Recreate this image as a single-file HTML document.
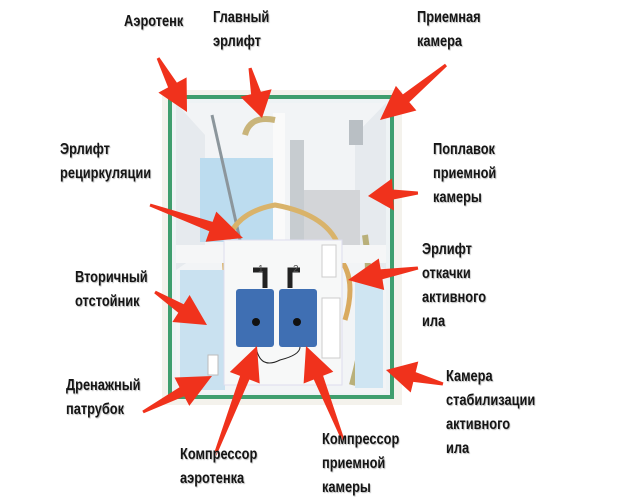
<!DOCTYPE html>
<html><head><meta charset="utf-8"><style>
html,body{margin:0;padding:0;background:#fff;}
#w{position:relative;width:644px;height:500px;overflow:hidden;background:#fff;font-family:"Liberation Sans","Noto Sans CJK SC",sans-serif;}
.t{position:absolute;font-size:16px;font-weight:bold;line-height:24px;color:#151515;transform:scaleX(0.8);transform-origin:left top;text-shadow:1px 1px 1px #bbb;white-space:nowrap}
svg{position:absolute;left:0;top:0}
</style></head><body><div id="w">
<svg width="644" height="500" id="s">
<rect x="162" y="90" width="240" height="315" fill="#f4f2ec"/>
<rect x="170" y="97" width="222" height="300" fill="#eef3f5" stroke="#3f9e6e" stroke-width="4"/>
<rect x="176" y="103" width="210" height="290" fill="#f2f4f6"/>
<polygon points="176,103 205,135 205,250 176,270" fill="#e6eaee"/>
<polygon points="386,103 355,135 355,250 386,270" fill="#e6eaee"/>
<rect x="200" y="158" width="77" height="84" fill="#bcdcef"/>
<rect x="290" y="190" width="70" height="62" fill="#d3d5d8"/>
<rect x="273" y="113" width="12" height="130" fill="#fafafa"/>
<rect x="290" y="140" width="14" height="100" fill="#c7ccd0"/>
<rect x="349" y="120" width="14" height="25" fill="#b9bfc4"/>
<line x1="212" y1="115" x2="240" y2="240" stroke="#8c969c" stroke-width="3"/>
<path d="M245,135 Q250,115 275,120" fill="none" stroke="#c9b47a" stroke-width="6"/>
<path d="M225,270 Q220,215 275,205 Q330,215 340,250" fill="none" stroke="#d9b36a" stroke-width="5"/>
<path d="M330,250 Q360,270 345,320" fill="none" stroke="#d9aa60" stroke-width="5"/>
<path d="M365,235 Q375,300 352,385" fill="none" stroke="#b9b07a" stroke-width="6"/>
<rect x="176" y="245" width="210" height="18" fill="#f5f6f7"/>
<rect x="180" y="270" width="45" height="120" fill="#c9e1f0"/>
<rect x="355" y="278" width="28" height="110" fill="#cfe5f2"/>
<rect x="224" y="240" width="118" height="145" fill="#f7f8f8" stroke="#dde" stroke-width="1"/>
<rect x="322" y="245" width="14" height="32" fill="#fff" stroke="#ccc"/>
<rect x="322" y="298" width="18" height="60" fill="#fff" stroke="#ccc"/>
<rect x="236" y="289" width="38" height="58" rx="3" fill="#3f6fb3"/>
<rect x="279" y="289" width="38" height="58" rx="3" fill="#3f6fb3"/>
<circle cx="256" cy="322" r="4" fill="#111"/><circle cx="297" cy="322" r="4" fill="#111"/>
<path d="M253,270 h12 v18" fill="none" stroke="#222" stroke-width="5"/>
<path d="M300,270 h-10 v18" fill="none" stroke="#222" stroke-width="5"/>
<text x="258" y="272" font-size="10" fill="#555" font-family="Liberation Sans">1</text>
<text x="293" y="272" font-size="10" fill="#555" font-family="Liberation Sans">2</text>
<path d="M256,347 Q260,370 280,360 Q300,355 300,347" fill="none" stroke="#222" stroke-width="1"/>
<rect x="208" y="355" width="10" height="20" fill="#fff" stroke="#bbb"/>
</svg>
<div class="t" style="left:124px;top:10px">Аэротенк</div>
<div class="t" style="left:213px;top:6px">Главный<br>эрлифт</div>
<div class="t" style="left:417px;top:6px">Приемная<br>камера</div>
<div class="t" style="left:60px;top:138px">Эрлифт<br>рециркуляции</div>
<div class="t" style="left:433px;top:138px">Поплавок<br>приемной<br>камеры</div>
<div class="t" style="left:422px;top:238px">Эрлифт<br>откачки<br>активного<br>ила</div>
<div class="t" style="left:75px;top:266px">Вторичный<br>отстойник</div>
<div class="t" style="left:446px;top:365px">Камера<br>стабилизации<br>активного<br>ила</div>
<div class="t" style="left:66px;top:374px">Дренажный<br>патрубок</div>
<div class="t" style="left:180px;top:443px">Компрессор<br>аэротенка</div>
<div class="t" style="left:322px;top:428px">Компрессор<br>приемной<br>камеры</div>
<script>
var A=[[158,58,187,112],[250,68,262,118],[446,65,380,120],[150,205,243,238],[418,193,368,196],[418,268,348,280],[155,292,207,325],[443,384,386,370],[143,412,212,376],[215,455,257,346],[343,440,306,346]];
var s=document.getElementById('s'),h='';
A.forEach(function(a){var dx=a[2]-a[0],dy=a[3]-a[1],L=Math.hypot(dx,dy),ux=dx/L,uy=dy/L,nx=-uy,ny=ux,hl=Math.min(34,L*0.5);
var bx=a[2]-ux*hl,by=a[3]-uy*hl;function p(x,y,k){return (x+nx*k).toFixed(1)+','+(y+ny*k).toFixed(1)}
h+='<polygon fill="#f0321c" points="'+[p(a[0],a[1],1.5),p(bx,by,5),p(bx,by,16),a[2]+','+a[3],p(bx,by,-16),p(bx,by,-5),p(a[0],a[1],-1.5)].join(' ')+'"/>';});
s.insertAdjacentHTML('beforeend',h);
</script>
</div></body></html>
